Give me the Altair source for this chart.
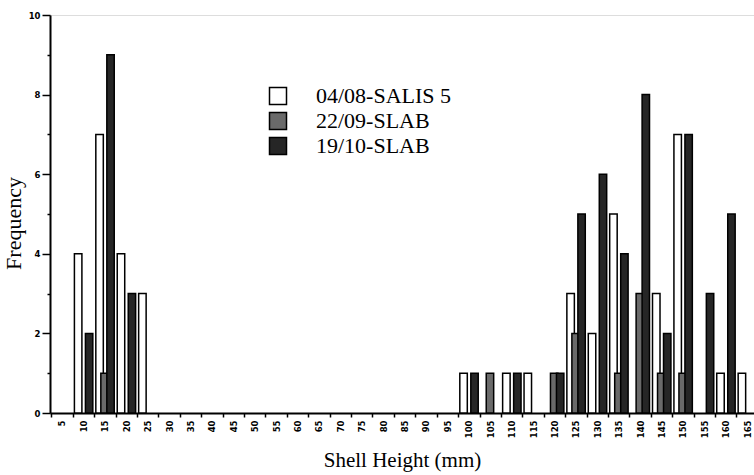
import altair as alt
import pandas as pd

# Shell height classes (mm)
sizes = [5, 10, 15, 20, 25, 30, 35, 40, 45, 50, 55, 60, 65, 70, 75, 80, 85,
         90, 95, 100, 105, 110, 115, 120, 125, 130, 135, 140, 145, 150, 155,
         160, 165]

series = ["04/08-SALIS 5", "22/09-SLAB", "19/10-SLAB"]

freq_0408 = [0, 4, 7, 4, 3, 0, 0, 0, 0, 0, 0, 0, 0, 0, 0, 0, 0,
             0, 0, 1, 0, 1, 1, 0, 3, 2, 5, 0, 3, 7, 0, 1, 1]
freq_2209 = [0, 0, 1, 0, 0, 0, 0, 0, 0, 0, 0, 0, 0, 0, 0, 0, 0,
             0, 0, 0, 1, 0, 0, 1, 2, 0, 1, 3, 1, 1, 0, 0, 0]
freq_1910 = [0, 2, 9, 3, 0, 0, 0, 0, 0, 0, 0, 0, 0, 0, 0, 0, 0,
             0, 0, 1, 0, 1, 0, 1, 5, 6, 4, 8, 2, 7, 3, 5, 0]

colors = ["#ffffff", "#6a6a6a", "#262626"]
# bar extent relative to class centre (mm)
offsets = [(-2.1, -0.35), (-0.93, 0.81), (0.47, 2.2)]

rows = []
for name, vals, (lo, hi) in zip(series, [freq_0408, freq_2209, freq_1910], offsets):
    for s, v in zip(sizes, vals):
        if v > 0:
            rows.append({"size": s, "series": name, "freq": v,
                         "x0": s + lo, "x1": s + hi})
df = pd.DataFrame(rows)

tick_vals = [s - 2.5 for s in sizes]

chart = alt.Chart(df).mark_bar(stroke="black", strokeWidth=1.5, clip=True).encode(
    x=alt.X("x0:Q",
            scale=alt.Scale(domain=[2.2, 166.6], nice=False, zero=False),
            axis=alt.Axis(values=tick_vals,
                          labelExpr="format(datum.value + 2.5, 'd')",
                          labelOffset=10.7, labelAngle=270,
                          labelAlign="right", labelBaseline="middle",
                          labelFont="DejaVu Sans", labelFontWeight="bold",
                          labelFontSize=8.5, labelColor="black",
                          labelPadding=3, labelFlush=False, labelOverlap=False,
                          tickSize=4, tickWidth=1.5, tickColor="black",
                          domainWidth=2, domainColor="black", grid=False,
                          title="Shell Height (mm)", titleFont="Liberation Serif",
                          titleFontSize=21, titleFontWeight="normal",
                          titleColor="black", titlePadding=12)),
    x2="x1:Q",
    y=alt.Y("freq:Q", stack=None,
            scale=alt.Scale(domain=[0, 10], nice=False),
            axis=alt.Axis(values=list(range(0, 11)),
                          labelExpr="datum.value % 2 == 0 ? datum.value : ''",
                          labelFont="DejaVu Sans", labelFontWeight="bold",
                          labelFontSize=8.5, labelColor="black", labelPadding=2,
                          tickSize={"condition": {"test": "datum.value % 2 == 0", "value": 8}, "value": 3},
                          tickWidth=1.5, tickColor="black",
                          domainWidth=2, domainColor="black", grid=False,
                          title="Frequency", titleFont="Liberation Serif",
                          titleFontSize=22, titleFontWeight="normal",
                          titleColor="black", titlePadding=3, titleY=208)),
    y2=alt.datum(0),
    color=alt.Color("series:N",
                    scale=alt.Scale(domain=series, range=colors),
                    legend=alt.Legend(title=None, orient="none",
                                      legendX=217, legendY=70,
                                      symbolType="square", symbolSize=289,
                                      symbolStrokeColor="black",
                                      symbolStrokeWidth=1.5, symbolOpacity=1,
                                      labelFont="Liberation Serif",
                                      labelFontSize=22, labelColor="black",
                                      labelOffset=27, rowPadding=1, padding=0)),
).properties(
    width=704, height=398,
    autosize=alt.AutoSizeParams(type="none"),
    padding={"left": 50, "top": 15, "right": 0, "bottom": 62},
).configure_view(stroke=None).configure(background="white")

chart.save("out.html", embed_options={"renderer": "svg", "actions": False})
